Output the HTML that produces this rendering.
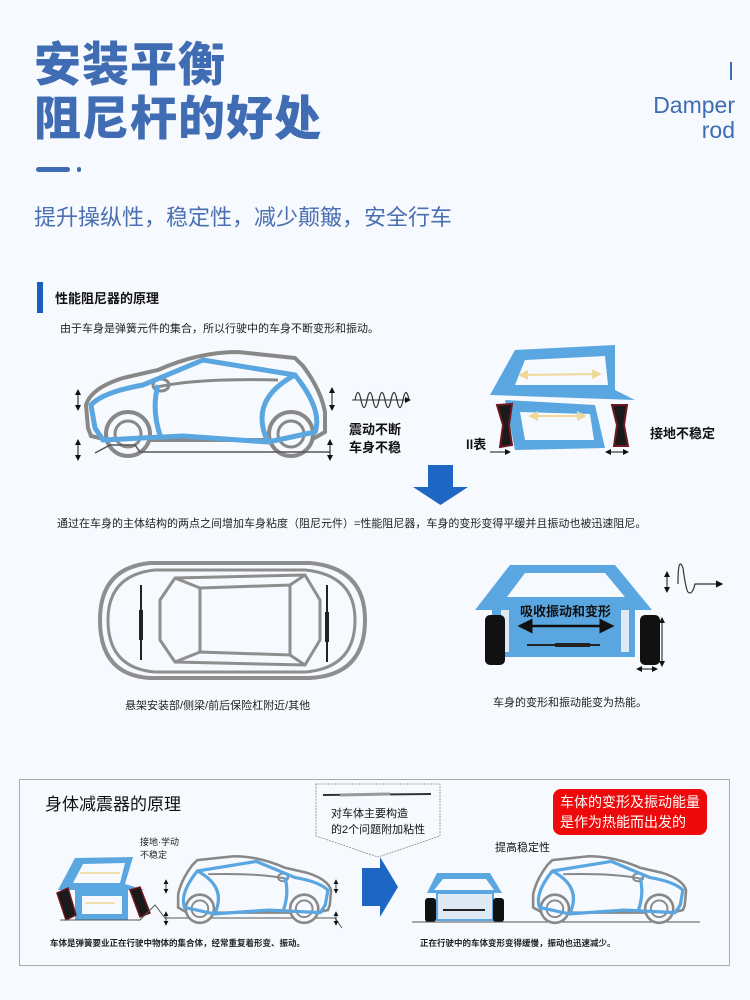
<!DOCTYPE html>
<html><head><meta charset="utf-8"><style>
html,body{margin:0;padding:0;background:#f6f9fd;}
body{width:750px;height:1000px;position:relative;overflow:hidden;font-family:"Liberation Sans","Noto Sans CJK SC",sans-serif;}
.a{position:absolute;white-space:nowrap;}
</style></head><body>
<div class="a" style="left:34px;top:38px;font-size:47px;font-weight:900;color:#3f6cb2;line-height:54px;letter-spacing:1px">安装平衡<br>阻尼杆的好处</div>
<div class="a" style="left:730px;top:62px;width:2px;height:18px;background:#3f6cb2"></div>
<div class="a" style="right:15px;top:93px;font-size:23px;color:#3f6cb2;text-align:right;line-height:25px">Damper<br>rod</div>
<div class="a" style="left:36px;top:167px;width:34px;height:5px;border-radius:3px;background:#3f6cb2"></div>
<div class="a" style="left:77px;top:167px;width:4px;height:5px;border-radius:2px;background:#3f6cb2"></div>
<div class="a" style="left:34px;top:200px;font-size:22px;color:#4a70b2">提升操纵性，稳定性，减少颠簸，安全行车</div>

<div class="a" style="left:37px;top:282px;width:6px;height:31px;background:#1a5fbe"></div>
<div class="a" style="left:55px;top:288px;font-size:13px;font-weight:bold;color:#111">性能阻尼器的原理</div>
<div class="a" style="left:60px;top:320px;font-size:11px;color:#222">由于车身是弹簧元件的集合，所以行驶中的车身不断变形和振动。</div>
<div class="a" style="left:349px;top:421px;font-size:13px;font-weight:bold;color:#111;line-height:18px">震动不断<br>车身不稳</div>
<div class="a" style="left:650px;top:423px;font-size:13px;font-weight:bold;color:#111">接地不稳定</div>
<div class="a" style="left:57px;top:515px;font-size:11px;color:#222">通过在车身的主体结构的两点之间增加车身粘度（阻尼元件）=性能阻尼器，车身的变形变得平缓并且振动也被迅速阻尼。</div>
<div class="a" style="left:125px;top:697px;font-size:11px;color:#222">悬架安装部/侧梁/前后保险杠附近/其他</div>
<div class="a" style="left:493px;top:694px;font-size:11px;color:#222">车身的变形和振动能变为热能。</div>

<svg class="a" style="left:0;top:0" width="750" height="1000" viewBox="0 0 750 1000">
<defs>
<g id="car">
<path d="M5,78 L3,55 Q8,38 40,28 L75,20 Q115,2 155,2 L212,8 L220,16 Q238,40 242,62 L242,82 L228,90 L25,90 L8,86 Z" fill="none" stroke="#888" stroke-width="4"/>
<path d="M70,38 Q110,28 195,30" fill="none" stroke="#888" stroke-width="3"/>
<ellipse cx="78" cy="35" rx="8" ry="6" fill="none" stroke="#888" stroke-width="3"/>
<circle cx="45" cy="84" r="22" fill="#f6f9fd" stroke="#888" stroke-width="4"/>
<circle cx="45" cy="84" r="13" fill="none" stroke="#888" stroke-width="3"/>
<circle cx="208" cy="84" r="22" fill="#f6f9fd" stroke="#888" stroke-width="4"/>
<circle cx="208" cy="84" r="13" fill="none" stroke="#888" stroke-width="3"/>
</g>
<g id="blue">
<path d="M12,78 L8,55 Q20,42 60,35 L120,10 L212,25 Q240,60 232,82 L185,92 L100,86 L20,90 Z" fill="none" stroke="#5aa6e0" stroke-width="5" stroke-linejoin="round"/>
<path d="M185,92 Q165,50 212,25 M75,35 Q68,60 78,88" fill="none" stroke="#5aa6e0" stroke-width="5"/>
</g>
<marker id="ah" markerWidth="6" markerHeight="6" refX="5" refY="3" orient="auto"><path d="M0,0L6,3L0,6Z" fill="#111"/></marker>
<marker id="ah2" markerWidth="6" markerHeight="6" refX="1" refY="3" orient="auto"><path d="M6,0L0,3L6,6Z" fill="#111"/></marker>
<marker id="ay" markerWidth="5" markerHeight="5" refX="4" refY="2.5" orient="auto"><path d="M0,0L5,2.5L0,5Z" fill="#f0d898"/></marker>
<marker id="ay2" markerWidth="5" markerHeight="5" refX="1" refY="2.5" orient="auto"><path d="M5,0L0,2.5L5,5Z" fill="#f0d898"/></marker>
</defs>

<g transform="translate(83,350)"><use href="#car"/><use href="#blue"/></g>
<path d="M95,453 L110,445 L135,445 L140,452 L330,452" fill="none" stroke="#555" stroke-width="1.5"/>
<g stroke="#111" stroke-width="1" marker-start="url(#ah2)" marker-end="url(#ah)">
<line x1="78" y1="390" x2="78" y2="410"/>
<line x1="78" y1="440" x2="78" y2="460"/>
<line x1="332" y1="388" x2="332" y2="410"/>
<line x1="330" y1="440" x2="330" y2="460"/>
</g>
<path d="M355,400 q3,-15 6,0 q3,15 6,0 q3,-15 6,0 q3,15 6,0 q3,-15 6,0 q3,15 6,0 q3,-15 6,0 q3,15 6,0 q3,-15 6,0" fill="none" stroke="#333" stroke-width="1.2"/>
<line x1="352" y1="400" x2="410" y2="400" stroke="#333" marker-end="url(#ah)"/>

<path d="M515,350 L615,345 L615,390 L635,400 L490,395 Z M525,360 L605,356 L608,385 L515,385 Z" fill="#5aa6e0" fill-rule="evenodd"/>
<path d="M505,400 L595,405 L605,448 L515,450 Z M520,412 L590,414 L594,440 L525,440 Z" fill="#5aa6e0" fill-rule="evenodd"/>
<line x1="520" y1="375" x2="600" y2="374" stroke="#f0d898" stroke-width="2" marker-start="url(#ay2)" marker-end="url(#ay)"/>
<line x1="530" y1="416" x2="585" y2="416" stroke="#f0d898" stroke-width="2" marker-start="url(#ay2)" marker-end="url(#ay)"/>
<path d="M497,405 L512,404 L509,425 L512,445 L500,447 L503,425 Z" fill="#1a1a1a" stroke="#701820" stroke-width="2"/>
<path d="M612,405 L627,405 L624,425 L628,446 L614,446 L617,425 Z" fill="#1a1a1a" stroke="#701820" stroke-width="2"/>
<text x="466" y="449" font-size="13" font-weight="bold" fill="#111">ll表</text>
<line x1="490" y1="452" x2="510" y2="452" stroke="#111" marker-end="url(#ah)"/>
<line x1="606" y1="452" x2="628" y2="452" stroke="#111" marker-start="url(#ah2)" marker-end="url(#ah)"/>

<path d="M428,465 L453,465 L453,487 L468,487 L440.5,505 L413,487 L428,487 Z" fill="#1e66c4"/>

<g fill="none" stroke="#8e8e8e" stroke-width="4">
<path d="M150,563 L310,563 Q365,568 365,620 Q365,675 310,678 L150,678 Q100,675 100,620 Q100,568 150,563 Z"/>
<path d="M155,570 L305,570 Q355,575 355,620 Q355,668 305,672 L155,672 Q108,668 108,620 Q108,575 155,570 Z" stroke-width="3"/>
<path d="M175,578 L305,575 L320,600 L320,640 L305,665 L175,662 L160,640 L160,600 Z" stroke-width="3"/>
<path d="M200,588 L290,585 L290,655 L200,652 Z" stroke-width="3"/>
<path d="M175,578 L200,588 M305,575 L290,585 M305,665 L290,655 M175,662 L200,652" stroke-width="3"/>
</g>
<g stroke="#222" stroke-width="2"><line x1="141" y1="585" x2="141" y2="660"/><line x1="327" y1="585" x2="327" y2="662"/></g>
<g stroke="#222" stroke-width="4"><line x1="141" y1="610" x2="141" y2="640"/><line x1="327" y1="612" x2="327" y2="642"/></g>

<path d="M510,565 L615,565 L652,610 L475,610 Z" fill="#5aa6e0"/>
<path d="M525,573 L605,573 L625,597 L507,597 Z" fill="#f6f9fd"/>
<rect x="492" y="605" width="143" height="52" fill="#5aa6e0"/>
<rect x="501" y="610" width="8" height="42" fill="#dfe9f4"/>
<rect x="621" y="610" width="8" height="42" fill="#dfe9f4"/>
<rect x="485" y="615" width="20" height="50" rx="5" fill="#111"/>
<rect x="640" y="615" width="20" height="50" rx="5" fill="#111"/>
<text x="520" y="616" font-size="13" font-weight="bold" fill="#111">吸收振动和变形</text>
<line x1="520" y1="626" x2="612" y2="626" stroke="#111" stroke-width="2.5" marker-start="url(#ah2)" marker-end="url(#ah)"/>
<line x1="527" y1="645" x2="600" y2="645" stroke="#222" stroke-width="2"/>
<line x1="555" y1="645" x2="590" y2="645" stroke="#222" stroke-width="4"/>
<line x1="662" y1="618" x2="662" y2="666" stroke="#111" marker-start="url(#ah2)" marker-end="url(#ah)"/>
<line x1="637" y1="669" x2="657" y2="669" stroke="#111" marker-start="url(#ah2)" marker-end="url(#ah)"/>
<line x1="667" y1="572" x2="667" y2="592" stroke="#111" marker-start="url(#ah2)" marker-end="url(#ah)"/>
<path d="M678,584 Q678,555 683,568 Q686,590 688,592 Q692,596 695,584 L722,584" fill="none" stroke="#333" stroke-width="1.2" marker-end="url(#ah)"/>

<rect x="19.5" y="779.5" width="710" height="186" fill="#f6f9fd" stroke="#aaa"/>
<text x="45" y="810" font-size="17" fill="#111">身体减震器的原理</text>
<path d="M316,784 L440,784 L440,836 L378,857 L316,836 Z" fill="#f6f9fd" stroke="#888" stroke-width="0.8" stroke-dasharray="2,1"/>
<line x1="323" y1="795" x2="431" y2="794" stroke="#333" stroke-width="2"/>
<line x1="340" y1="795" x2="390" y2="794" stroke="#999" stroke-width="3"/>
<text x="331" y="817" font-size="11" fill="#111">对车体主要构造</text>
<text x="331" y="833" font-size="11" fill="#111">的2个问题附加粘性</text>
<rect x="553" y="789" width="154" height="46" rx="8" fill="#ee0a0a"/>
<text x="560" y="807" font-size="14" fill="#fff">车体的变形及振动能量</text>
<text x="560" y="827" font-size="14" fill="#fff">是作为热能而出发的</text>
<text x="140" y="845" font-size="9" fill="#222">接地·学动</text>
<text x="140" y="858" font-size="9" fill="#222">不稳定</text>

<path d="M75,858 L133,857 L125,884 L145,890 L58,890 Z M83,864 L125,863 L120,883 L73,883 Z" fill="#5aa6e0" fill-rule="evenodd"/>
<path d="M75,890 L128,890 L128,920 L75,920 Z M82,896 L122,896 L122,914 L82,914 Z" fill="#5aa6e0" fill-rule="evenodd"/>
<line x1="80" y1="873" x2="120" y2="873" stroke="#f0d898" stroke-width="1.5"/>
<line x1="85" y1="903" x2="115" y2="903" stroke="#f0d898" stroke-width="1.5"/>
<path d="M57,893 L68,888 L76,915 L66,920 Z" fill="#1a1a1a" stroke="#701820" stroke-width="1.5"/>
<path d="M130,890 L140,887 L150,913 L140,917 Z" fill="#1a1a1a" stroke="#701820" stroke-width="1.5"/>
<path d="M60,920 L140,920 L155,905 L165,918 L335,918 L342,928" fill="none" stroke="#555" stroke-width="1"/>

<g transform="translate(333,855) scale(-0.64,0.64)"><use href="#car"/><use href="#blue"/></g>
<g stroke="#111" stroke-width="0.8" marker-start="url(#ah2)" marker-end="url(#ah)">
<line x1="166" y1="880" x2="166" y2="893"/><line x1="166" y1="912" x2="166" y2="925"/>
<line x1="336" y1="880" x2="336" y2="893"/><line x1="336" y1="912" x2="336" y2="925"/>
</g>

<path d="M362,868 L380,868 L380,857 L398,887 L380,917 L380,906 L362,906 Z" fill="#1e66c4"/>

<text x="495" y="851" font-size="11" fill="#111">提高稳定性</text>
<path d="M437,873 L490,873 L502,893 L427,893 Z M443,879 L486,879 L494,890 L434,890 Z" fill="#5aa6e0" fill-rule="evenodd"/>
<rect x="437" y="893" width="56" height="27" fill="#dfe9f4" stroke="#5aa6e0" stroke-width="2"/>
<line x1="443" y1="910" x2="485" y2="910" stroke="#222" stroke-width="2"/>
<rect x="425" y="898" width="11" height="24" rx="3" fill="#111"/>
<rect x="493" y="898" width="11" height="24" rx="3" fill="#111"/>
<line x1="412" y1="922" x2="700" y2="922" stroke="#555" stroke-width="1"/>
<g transform="translate(688,855) scale(-0.64,0.64)"><use href="#car"/><use href="#blue"/></g>

<text x="50" y="946" font-size="8.5" font-weight="bold" fill="#222">车体是弹簧要业正在行驶中物体的集合体，经常重复着形变、振动。</text>
<text x="420" y="946" font-size="8.5" font-weight="bold" fill="#222">正在行驶中的车体变形变得缓慢，振动也迅速减少。</text>
</svg>
</body></html>
